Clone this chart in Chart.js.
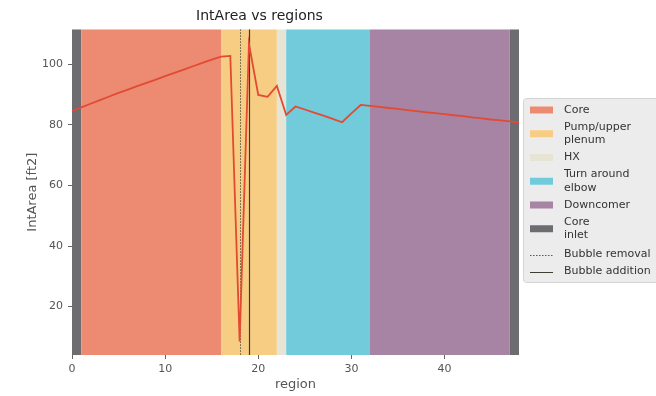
<!DOCTYPE html>
<html>
<head>
<meta charset="utf-8">
<script src="https://cdn.jsdelivr.net/npm/chart.js@4.4.0/dist/chart.umd.min.js"></script>
<style>
  html, body { margin: 0; padding: 0; background: #ffffff; }
  #wrap { width: 656px; height: 396px; }
</style>
</head>
<body>
<div id="wrap"><canvas id="grafico-intarea"></canvas></div>
<script>
// region index along the loop and interior area per region
var regionIndex = [0, 1, 2, 3, 4, 5, 6, 7, 8, 9, 10, 11, 12, 13, 14, 15, 16, 17, 18, 19, 20,
    21, 22, 23, 24, 25, 26, 27, 28, 29, 30, 31, 32, 33, 34, 35, 36, 37, 38, 39, 40,
    41, 42, 43, 44, 45, 46, 47, 48];
var intArea = [84.6, 85.8, 87.0, 88.2, 89.4, 90.6, 91.7, 92.8, 93.9, 95.0, 96.1,
    97.2, 98.3, 99.4, 100.5, 101.6, 102.6, 102.8, 8.5, 106.8, 89.9,
    89.3, 92.9, 83.3, 86.1, 85.1, 84.1, 83.1, 82.0, 80.9, 83.8,
    86.6, 86.3, 86.0, 85.6, 85.3, 84.9, 84.6, 84.2, 83.9, 83.6,
    83.2, 82.9, 82.5, 82.2, 81.8, 81.5, 81.2, 80.8];

// loop sections (start / end region)
var sectionNames = ["Core inlet", "Core", "Pump/upper plenum", "HX", "Turn around elbow", "Downcomer", "Core inlet"];
var sectionStart = [0, 1, 16, 22, 23, 32, 47];
var sectionEnd = [1, 16, 22, 23, 32, 47, 48];

var bubbleRemoval = 18;
var bubbleAddition = 19;

var xTicks = [0, 10, 20, 30, 40];
var yTicks = [20, 40, 60, 80, 100];

// styles
var coresSecao = {
    "Core": "rgb(236,139,114)",
    "Pump/upper plenum": "rgb(247,205,131)",
    "HX": "rgb(231,228,214)",
    "Turn around elbow": "rgb(114,203,218)",
    "Downcomer": "rgb(167,132,163)",
    "Core inlet": "rgb(108,108,113)"
};
var fonte = "'DejaVu Sans', sans-serif";

var legendaItens = [
    { linhas: ["Core"], tipo: "box", cor: coresSecao["Core"] },
    { linhas: ["Pump/upper", "plenum"], tipo: "box", cor: coresSecao["Pump/upper plenum"] },
    { linhas: ["HX"], tipo: "box", cor: coresSecao["HX"] },
    { linhas: ["Turn around", "elbow"], tipo: "box", cor: coresSecao["Turn around elbow"] },
    { linhas: ["Downcomer"], tipo: "box", cor: coresSecao["Downcomer"] },
    { linhas: ["Core", "inlet"], tipo: "box", cor: coresSecao["Core inlet"] },
    { linhas: ["Bubble removal"], tipo: "dot", cor: "#5a5a48" },
    { linhas: ["Bubble addition"], tipo: "line", cor: "#3e3e30" }
];

var faixas = {
    id: "faixas",
    beforeDatasetsDraw: function (chart) {
        var ctx = chart.ctx;
        var area = chart.chartArea;
        var x = chart.scales.x;
        ctx.save();
        ctx.beginPath();
        ctx.rect(area.left, area.top, area.right - area.left, area.bottom - area.top);
        ctx.clip();
        for (var i = 0; i < sectionNames.length; i++) {
            var x0 = x.getPixelForValue(sectionStart[i]);
            var x1 = x.getPixelForValue(sectionEnd[i]);
            ctx.fillStyle = coresSecao[sectionNames[i]];
            ctx.fillRect(x0, area.top, x1 - x0, area.bottom - area.top);
        }
        // bubble removal (dotted) and addition (solid)
        var xr = Math.round(x.getPixelForValue(bubbleRemoval)) + 0.5;
        ctx.strokeStyle = "#5a5a48";
        ctx.lineWidth = 1;
        ctx.setLineDash([1.5, 1.5]);
        ctx.beginPath();
        ctx.moveTo(xr, area.top);
        ctx.lineTo(xr, area.bottom);
        ctx.stroke();
        var xa = Math.round(x.getPixelForValue(bubbleAddition)) + 0.5;
        ctx.setLineDash([]);
        ctx.strokeStyle = "#3e3e30";
        ctx.lineWidth = 1.2;
        ctx.beginPath();
        ctx.moveTo(xa, area.top);
        ctx.lineTo(xa, area.bottom);
        ctx.stroke();
        ctx.restore();
    }
};

var legenda = {
    id: "legenda",
    afterDraw: function (chart) {
        var ctx = chart.ctx;
        var left = chart.chartArea.right + 4;
        ctx.save();
        ctx.fillStyle = "#ececec";
        ctx.strokeStyle = "#d4d4d4";
        ctx.lineWidth = 1;
        ctx.beginPath();
        ctx.roundRect(left + 0.5, 98.5, 200, 184, 3);
        ctx.fill();
        ctx.stroke();
        ctx.font = "11px " + fonte;
        ctx.textBaseline = "middle";
        ctx.textAlign = "left";
        var y = 110;
        for (var i = 0; i < legendaItens.length; i++) {
            var item = legendaItens[i];
            var meio = y + (item.linhas.length - 1) * 13.5 / 2;
            if (item.tipo === "box") {
                ctx.fillStyle = item.cor;
                ctx.fillRect(left + 7, meio - 3.5, 23, 7);
            } else {
                ctx.strokeStyle = item.cor;
                ctx.lineWidth = 1;
                ctx.setLineDash(item.tipo === "dot" ? [1.5, 1.5] : []);
                ctx.beginPath();
                ctx.moveTo(left + 7, Math.round(meio) + 0.5);
                ctx.lineTo(left + 30, Math.round(meio) + 0.5);
                ctx.stroke();
                ctx.setLineDash([]);
            }
            ctx.fillStyle = "#333333";
            for (var j = 0; j < item.linhas.length; j++) {
                ctx.fillText(item.linhas[j], left + 41, y + j * 13.5);
            }
            y += (item.linhas.length - 1) * 13.5 + (i === 5 ? 19 : 17);
        }
        ctx.restore();
    }
};

var pontos = regionIndex.map(function (r, i) { return { x: r, y: intArea[i] }; });

var graficoIntArea = new Chart(document.querySelector("#grafico-intarea").getContext("2d"), {
    type: "line",
    data: {
        datasets: [{
            label: "IntArea",
            data: pontos,
            borderColor: "rgb(226,74,51)",
            backgroundColor: "transparent",
            borderWidth: 1.8,
            pointRadius: 0,
            tension: 0
        }]
    },
    options: {
        responsive: true,
        maintainAspectRatio: false,
        animation: false,
        layout: { padding: { top: 0, right: 137, left: 0, bottom: 0 } },
        plugins: {
            legend: { display: false },
            tooltip: { enabled: false },
            title: {
                display: true,
                text: "IntArea vs regions",
                color: "#222222",
                font: { family: fonte, size: 14, weight: "normal" },
                padding: { top: 8, bottom: 4.5 }
            }
        },
        scales: {
            x: {
                type: "linear",
                min: 0,
                max: 48,
                afterBuildTicks: function (scale) {
                    scale.ticks = xTicks.map(function (v) { return { value: v }; });
                },
                afterFit: function (scale) { scale.height = 41; },
                grid: { drawOnChartArea: false, tickLength: 4, color: "#666666" },
                border: { display: false },
                ticks: { color: "#555555", font: { family: fonte, size: 11 }, padding: 4, maxRotation: 0 },
                title: {
                    display: true,
                    text: "region",
                    color: "#555555",
                    font: { family: fonte, size: 13 },
                    padding: { top: 0, bottom: 4 }
                }
            },
            y: {
                min: 4,
                max: 111.6,
                afterBuildTicks: function (scale) {
                    scale.ticks = yTicks.map(function (v) { return { value: v }; });
                },
                afterFit: function (scale) { scale.width = 72; },
                grid: { drawOnChartArea: false, tickLength: 4, color: "#666666" },
                border: { display: false },
                ticks: { color: "#555555", font: { family: fonte, size: 11 }, padding: 5 },
                title: {
                    display: true,
                    text: "IntArea [ft2]",
                    color: "#555555",
                    font: { family: fonte, size: 13 },
                    padding: { top: 25, bottom: 0 }
                }
            }
        }
    },
    plugins: [faixas, legenda]
});
</script>
</body>
</html>
